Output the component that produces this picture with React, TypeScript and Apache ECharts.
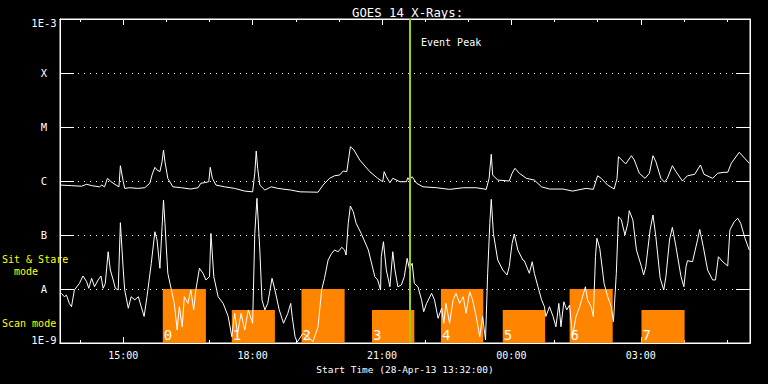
import React, { useEffect, useRef } from "react";
import * as echarts from "echarts";

// ---- data ----
const START = Date.UTC(2013, 3, 28, 13, 32);
const SPAN_MIN = 960;
const chartTitle = "GOES 14 X-Rays:";
const xAxisName = "Start Time (28-Apr-13 13:32:00)";
const yTickLabels = ["1E-9", "A", "B", "C", "M", "X", "1E-3"];
const xTickLabels = ["15:00", "18:00", "21:00", "00:00", "03:00"];
const xMajorHours = [15, 18, 21, 24, 27];
const xMinorHours = [14, 15, 16, 17, 18, 19, 20, 21, 22, 23, 24, 25, 26, 27, 28, 29];

// observation blocks (minutes after start)
const blockNames = ["0", "1", "2", "3", "4", "5", "6", "7"];
const blockStartMin = [143, 239, 336, 434, 530, 616, 709, 809];
const blockEndMin = [203, 299, 396, 493, 589, 675, 769, 869];
const blockMode = ["stare", "scan", "stare", "scan", "stare", "scan", "stare", "scan"];
const modeTop = { stare: 1e-8, scan: 4.1e-9 };
const peakMin = 487;
const peakLabel = "Event Peak";

// GOES long channel (1-8 A)
const longMinutes = [1, 16, 30, 37, 44, 55, 58, 62, 66, 71, 78, 82, 84, 88, 90, 97, 108, 118, 125, 128, 132, 135, 139, 142, 144, 146, 150, 157, 169, 182, 192, 196, 201, 207, 209, 212, 217, 229, 243, 257, 268, 271, 273, 275, 278, 285, 294, 303, 321, 334, 359, 366, 375, 382, 389, 394, 399, 402, 404, 409, 417, 431, 442, 449, 451, 454, 459, 463, 473, 482, 484, 486, 490, 496, 505, 524, 542, 561, 579, 593, 597, 600, 602, 609, 625, 629, 633, 639, 649, 660, 670, 681, 700, 713, 732, 742, 748, 753, 762, 771, 775, 777, 787, 795, 799, 806, 814, 820, 825, 829, 836, 841, 845, 852, 857, 866, 873, 883, 891, 896, 908, 915, 924, 929, 934, 945, 959];
const longFlux = [8.4e-7, 8.2e-7, 8.0e-7, 8.7e-7, 8.2e-7, 7.8e-7, 8.4e-7, 7.8e-7, 1.12e-6, 9.7e-7, 8.4e-7, 7.8e-7, 1.92e-6, 9.7e-7, 7.3e-7, 7.5e-7, 7.3e-7, 7.5e-7, 9.1e-7, 1.29e-6, 1.79e-6, 1.6e-6, 1.49e-6, 2.28e-6, 3.75e-6, 2.28e-6, 1.12e-6, 7.8e-7, 7.5e-7, 7.1e-7, 7.5e-7, 9.1e-7, 9.3e-7, 9.7e-7, 1.79e-6, 1.12e-6, 8.4e-7, 7.8e-7, 7.3e-7, 6.5e-7, 6.3e-7, 1.39e-6, 3.59e-6, 1.72e-6, 8.4e-7, 6.8e-7, 7.8e-7, 7.3e-7, 6.8e-7, 6.3e-7, 6.2e-7, 8.4e-7, 1.12e-6, 1.25e-6, 1.29e-6, 1.53e-6, 1.49e-6, 2.82e-6, 4.32e-6, 3.75e-6, 2.45e-6, 1.49e-6, 1.12e-6, 9.7e-7, 1.49e-6, 1.2e-6, 9.3e-7, 1.12e-6, 9.7e-7, 9.7e-7, 1.15e-6, 1.04e-6, 1.2e-6, 9.1e-7, 7.8e-7, 7.5e-7, 7.0e-7, 7.5e-7, 7.5e-7, 7.0e-7, 1.12e-6, 3.12e-6, 1.29e-6, 1.04e-6, 1.0e-6, 1.39e-6, 1.72e-6, 1.39e-6, 1.12e-6, 1.04e-6, 7.8e-7, 7.1e-7, 7.1e-7, 6.5e-7, 7.3e-7, 7.0e-7, 1.25e-6, 1.12e-6, 8.4e-7, 7.1e-7, 1.12e-6, 2.82e-6, 2.07e-6, 2.94e-6, 2.45e-6, 1.39e-6, 1.12e-6, 1.39e-6, 2.94e-6, 2.28e-6, 1.12e-6, 9.5e-7, 1.12e-6, 1.92e-6, 1.49e-6, 1.0e-6, 1.25e-6, 1.33e-6, 1.98e-6, 1.33e-6, 1.12e-6, 1.39e-6, 1.45e-6, 1.45e-6, 2.13e-6, 3.4e-6, 2.13e-6];

// GOES short channel (0.5-4 A)
const shortMinutes = [2, 6, 9, 13, 16, 20, 27, 32, 37, 40, 44, 48, 53, 57, 60, 63, 67, 70, 74, 77, 81, 84, 88, 90, 95, 99, 104, 109, 113, 117, 121, 127, 132, 135, 139, 142, 144, 146, 150, 155, 159, 163, 166, 170, 173, 178, 182, 186, 189, 194, 199, 203, 208, 210, 214, 220, 227, 234, 239, 243, 247, 252, 257, 262, 268, 271, 274, 278, 281, 285, 289, 295, 299, 305, 311, 317, 321, 323, 327, 330, 338, 345, 352, 359, 364, 368, 373, 378, 382, 387, 392, 396, 398, 401, 404, 408, 412, 419, 429, 438, 442, 446, 447, 450, 454, 459, 463, 466, 470, 475, 479, 483, 486, 490, 493, 498, 503, 506, 510, 517, 521, 526, 531, 534, 537, 542, 547, 551, 556, 561, 565, 570, 574, 579, 584, 588, 592, 595, 598, 600, 603, 609, 616, 622, 625, 629, 632, 637, 644, 646, 653, 657, 660, 665, 670, 674, 676, 681, 686, 690, 694, 697, 701, 705, 709, 713, 718, 723, 727, 731, 734, 739, 742, 745, 747, 751, 757, 762, 767, 770, 774, 777, 781, 786, 790, 792, 797, 802, 809, 812, 815, 821, 825, 829, 835, 840, 843, 848, 852, 857, 864, 868, 871, 873, 880, 887, 890, 895, 901, 908, 912, 916, 922, 929, 932, 938, 943, 947, 953, 959];
const shortFlux = [8.3e-9, 7.2e-9, 7.7e-9, 5.4e-9, 4.7e-9, 9.6e-9, 1.27e-8, 1.74e-8, 1.37e-8, 1.03e-8, 1.58e-8, 1.1e-8, 1.47e-8, 1.74e-8, 1.03e-8, 1.27e-8, 4.9e-8, 2.25e-8, 1.47e-8, 1.03e-8, 9.6e-9, 1.69e-7, 2.25e-8, 9.6e-9, 4.4e-9, 7.2e-9, 6.3e-9, 7.2e-9, 4.7e-9, 3.1e-9, 7.2e-9, 3.0e-8, 1.15e-7, 8.1e-8, 2.42e-8, 1.42e-7, 4.45e-7, 1.65e-7, 1.95e-8, 9.6e-9, 5.4e-9, 1.74e-9, 4.7e-9, 2.0e-9, 7.2e-9, 5.4e-9, 9.6e-9, 4.1e-9, 9.6e-9, 2.42e-8, 1.95e-8, 1.47e-8, 1.69e-8, 1.07e-7, 1.69e-8, 7.2e-9, 5.4e-9, 3.1e-9, 1.31e-9, 3.55e-9, 1.51e-9, 3.55e-9, 1.74e-9, 4.1e-9, 2.32e-9, 1.07e-7, 4.78e-7, 5.27e-8, 6.3e-9, 4.1e-9, 5.4e-9, 1.58e-8, 9.6e-9, 4.1e-9, 2.32e-9, 3.55e-9, 5.4e-9, 3.1e-9, 1.31e-9, 1.04e-9, 1.51e-9, 1.31e-9, 1.06e-9, 2.0e-9, 9.6e-9, 1.58e-8, 3.44e-8, 4.58e-8, 5.27e-8, 4.9e-8, 5.92e-8, 5.27e-8, 4.26e-8, 1.65e-7, 3.44e-7, 2.7e-7, 1.65e-7, 1.07e-7, 5.27e-8, 1.69e-8, 1.47e-8, 9.6e-9, 3.96e-8, 7.5e-8, 2.25e-8, 1.1e-8, 4.9e-8, 2.25e-8, 1.1e-8, 1.19e-8, 1.69e-8, 3.7e-8, 2.42e-8, 2.99e-8, 1.27e-8, 1.1e-8, 6.3e-9, 3.8e-9, 5.4e-9, 8.3e-9, 6.3e-9, 2.87e-9, 4.4e-9, 2.32e-9, 5.4e-9, 2.32e-9, 6.3e-9, 8.3e-9, 5.4e-9, 7.2e-9, 3.55e-9, 8.9e-9, 6.3e-9, 3.1e-9, 1.31e-9, 3.1e-9, 1.14e-9, 1.95e-8, 1.65e-7, 4.58e-7, 1.07e-7, 3.44e-8, 2.25e-8, 1.82e-8, 2.59e-8, 7.0e-8, 1.04e-7, 5.27e-8, 3.44e-8, 3.34e-8, 1.95e-8, 3.2e-8, 1.95e-8, 1.1e-8, 6.3e-9, 4.7e-9, 3.1e-9, 4.7e-9, 3.1e-9, 2.0e-9, 5.4e-9, 2.0e-9, 5.8e-9, 4.1e-9, 5.05e-9, 1.31e-9, 3.1e-9, 4.7e-9, 7.2e-9, 1.1e-8, 6.3e-9, 4.7e-9, 3.1e-9, 3.96e-8, 8.7e-8, 5.67e-8, 1.27e-8, 7.2e-9, 4.7e-9, 2.48e-9, 1.95e-8, 2.18e-7, 1.9e-7, 1.0e-7, 1.65e-7, 2.82e-7, 1.9e-7, 5.27e-8, 2.59e-8, 1.82e-8, 2.59e-8, 1.24e-7, 2.35e-7, 9.3e-8, 1.58e-8, 9.6e-9, 1.69e-8, 8.1e-8, 1.39e-7, 6.07e-8, 1.69e-8, 1.1e-8, 2.59e-8, 3.34e-8, 3.2e-8, 8.1e-8, 1.27e-7, 6.07e-8, 2.25e-8, 1.47e-8, 1.47e-8, 3.96e-8, 3.2e-8, 2.67e-8, 1.24e-7, 1.76e-7, 2.04e-7, 1.65e-7, 8.7e-8, 5.27e-8];

// ---- styles ----
const MONO = "DejaVu Sans Mono";
const WHITE = "#ffffff";
const ORANGE = "#ff8400";
const GREEN = "#9ccc10";
const YELLOW = "#ffff00";

const ts = (m: number) => START + m * 60000;
const hourTs = (h: number) => Date.UTC(2013, 3, 28, h, 0);
const fmtTime = (v: number) => {
  const d = new Date(v);
  const p = (n: number) => (n < 10 ? "0" + n : "" + n);
  return p(d.getUTCHours()) + ":" + p(d.getUTCMinutes());
};

export default function App() {
  const ref = useRef<HTMLDivElement>(null);
  useEffect(() => {
    if (!ref.current) return;
    const chart = echarts.init(ref.current, null, { renderer: "svg" });
    const xMin = START;
    const xMax = ts(SPAN_MIN);
    const minorVals = xMinorHours.map(hourTs);
    const majorVals = xMajorHours.map(hourTs);

    const baseX = (position: string) => ({
      type: "value",
      position,
      min: xMin,
      max: xMax,
      axisLine: { show: true, lineStyle: { color: WHITE, width: 1 } },
      splitLine: { show: false },
    });

    const xAxes = [
      {
        ...baseX("bottom"),
        axisTick: { show: true, inside: true, length: 3, customValues: minorVals, lineStyle: { color: WHITE } },
        axisLabel: {
          show: true,
          customValues: majorVals,
          color: WHITE,
          fontFamily: MONO,
          fontSize: 10,
          margin: 7,
          formatter: (v: number) => {
            const i = majorVals.indexOf(v);
            return i >= 0 ? xTickLabels[i] : fmtTime(v);
          },
        },
        name: xAxisName,
        nameLocation: "middle",
        nameGap: 19,
        nameTextStyle: { color: WHITE, fontFamily: MONO, fontSize: 9.5 },
      },
      {
        ...baseX("bottom"),
        axisTick: { show: true, inside: true, length: 6, customValues: majorVals, lineStyle: { color: WHITE } },
        axisLabel: { show: false },
      },
      {
        ...baseX("top"),
        axisTick: { show: true, inside: true, length: 3, customValues: minorVals, lineStyle: { color: WHITE } },
        axisLabel: { show: false },
      },
      {
        ...baseX("top"),
        axisTick: { show: true, inside: true, length: 6, customValues: majorVals, lineStyle: { color: WHITE } },
        axisLabel: { show: false },
      },
    ];

    const baseY = {
      type: "log",
      logBase: 10,
      min: 1e-9,
      max: 1e-3,
      splitNumber: 6,
      axisLine: { show: true, lineStyle: { color: WHITE, width: 1 } },
    };

    const yAxes = [
      {
        ...baseY,
        position: "left",
        axisTick: { show: true, inside: true, length: 14, lineStyle: { color: WHITE } },
        axisLabel: {
          show: true,
          color: WHITE,
          fontFamily: MONO,
          fontSize: 10.5,
          align: "center",
          margin: 16,
          formatter: (v: number) => {
            const k = Math.round(Math.log10(v)) + 9;
            const t = yTickLabels[k] ?? "";
            if (k === yTickLabels.length - 1) return "{top|" + t + "}";
            if (k === 0) return "{bot|" + t + "}";
            return t;
          },
          rich: {
            top: { color: WHITE, fontFamily: MONO, fontSize: 10.5, padding: [8, 0, 0, 0] },
            bot: { color: WHITE, fontFamily: MONO, fontSize: 10.5, padding: [0, 0, 7, 0] },
          },
        },
        splitLine: { show: true, lineStyle: { color: WHITE, width: 1, type: [1, 5] } },
      },
      {
        ...baseY,
        position: "right",
        axisTick: { show: true, inside: true, length: 14, lineStyle: { color: WHITE } },
        axisLabel: { show: false },
        splitLine: { show: false },
      },
    ];

    const areas = blockNames.map((name, i) => [
      { name, xAxis: ts(blockStartMin[i]), yAxis: 1e-9 },
      { xAxis: ts(blockEndMin[i]), yAxis: modeTop[blockMode[i] as "stare" | "scan"] },
    ]);

    const option: any = {
      animation: false,
      backgroundColor: "#000000",
      title: {
        text: chartTitle,
        left: 347,
        top: 2,
        textStyle: { color: WHITE, fontFamily: MONO, fontSize: 12.3, fontWeight: "normal" },
      },
      grid: {
        left: 60,
        right: 18,
        top: 19,
        bottom: 41,
        containLabel: false,
        outerBoundsMode: "none",
        show: true,
        borderColor: WHITE,
        borderWidth: 1,
      },
      xAxis: xAxes,
      yAxis: yAxes,
      series: [
        {
          name: "blocks",
          type: "line",
          z: 1,
          data: [[xMin, 1e-9]],
          showSymbol: false,
          symbol: "none",
          lineStyle: { opacity: 0 },
          silent: true,
          markArea: {
            silent: true,
            itemStyle: { color: ORANGE, opacity: 1, borderWidth: 0 },
            label: {
              show: true,
              position: "insideBottomLeft",
              distance: 1,
              color: WHITE,
              fontFamily: MONO,
              fontSize: 14,
              formatter: "{b}",
            },
            data: areas,
          },
        },
        {
          name: "long",
          type: "line",
          z: 3,
          showSymbol: false,
          symbol: "none",
          silent: true,
          lineStyle: { color: WHITE, width: 1 },
          data: longMinutes.map((m, i) => [ts(m), longFlux[i]]),
        },
        {
          name: "short",
          type: "line",
          z: 3,
          showSymbol: false,
          symbol: "none",
          silent: true,
          lineStyle: { color: WHITE, width: 1 },
          data: shortMinutes.map((m, i) => [ts(m), shortFlux[i]]),
        },
        {
          name: "peak",
          type: "line",
          z: 5,
          data: [[xMin, 1e-9]],
          showSymbol: false,
          symbol: "none",
          lineStyle: { opacity: 0 },
          silent: true,
          markLine: {
            silent: true,
            symbol: "none",
            label: { show: false },
            lineStyle: { color: GREEN, width: 2, type: "solid" },
            data: [{ xAxis: ts(peakMin) }],
          },
        },
      ],
      graphic: [
        {
          type: "text",
          left: 421,
          top: 37,
          style: { text: peakLabel, fill: WHITE, font: `10px "${MONO}"` },
        },
        {
          type: "text",
          left: 2,
          top: 253,
          style: { text: "Sit & Stare\n  mode", fill: YELLOW, font: `10px "${MONO}"`, lineHeight: 12 },
        },
        {
          type: "text",
          left: 2,
          top: 318,
          style: { text: "Scan mode", fill: YELLOW, font: `10px "${MONO}"` },
        },
      ],
    };

    chart.setOption(option);
    return () => chart.dispose();
  }, []);

  return (
    <div
      ref={ref}
      style={{ position: "fixed", left: 0, top: 0, width: 768, height: 384, background: "#000" }}
    />
  );
}
